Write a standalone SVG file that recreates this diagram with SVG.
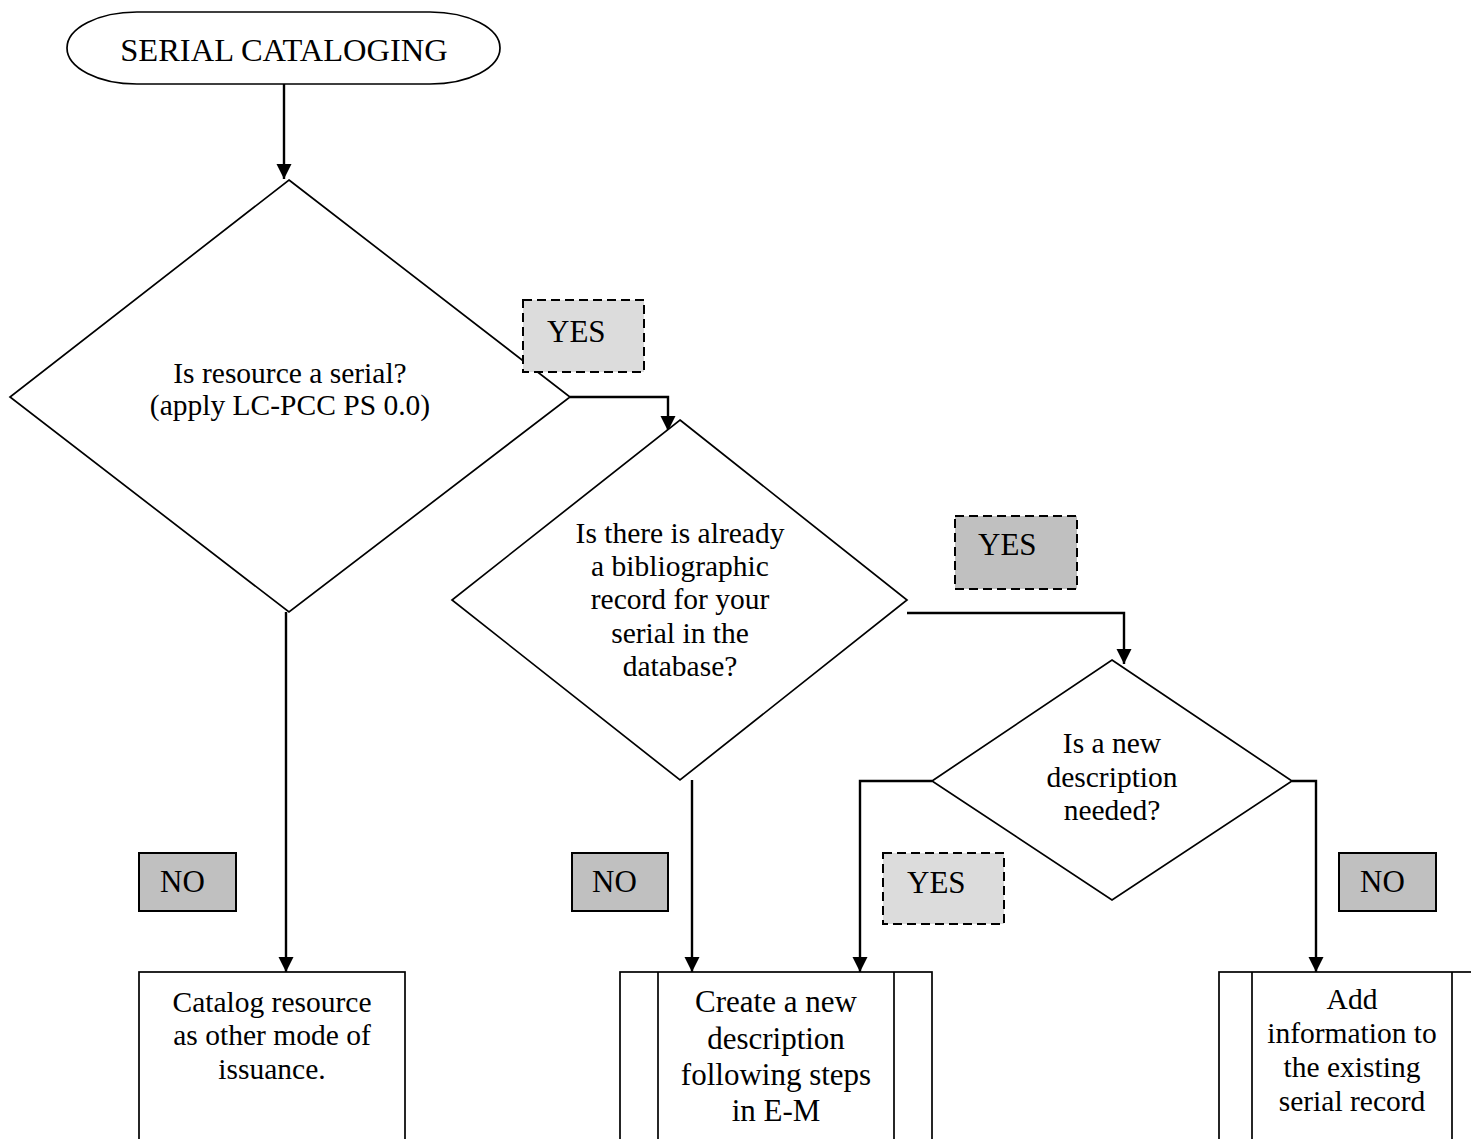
<svg xmlns="http://www.w3.org/2000/svg" width="1471" height="1139" viewBox="0 0 1471 1139">
<defs>
<marker id="arr" markerUnits="userSpaceOnUse" markerWidth="16" markerHeight="16" viewBox="0 0 16 16" refX="15" refY="8" orient="auto">
<path d="M0,0.5 L15,8 L0,15.5 Z" fill="#000"/>
</marker>
<style>
.s{fill:#fff;stroke:#000;stroke-width:1.7}
.c{fill:none;stroke:#000;stroke-width:2.4;marker-end:url(#arr)}
.t{font-family:"Liberation Serif","Times New Roman",serif;font-size:29.5px;fill:#000}
.m{text-anchor:middle}
.big{font-size:31px}
.ttl{font-size:32.5px}
.yl{fill:#dcdcdc;stroke:#000;stroke-width:2;stroke-dasharray:9,5}
.yd{fill:#c0c0c0;stroke:#000;stroke-width:2;stroke-dasharray:9,5}
.no{fill:#c0c0c0;stroke:#000;stroke-width:2}
</style>
</defs>
<rect width="1471" height="1139" fill="#fff"/>

<g id="connectors">
<path class="c" d="M284,84 V179"/>
<path class="c" d="M570,397 H668 V431"/>
<path class="c" d="M286,612 V972"/>
<path class="c" d="M907,613 H1124 V664"/>
<path class="c" d="M692,780 V972"/>
<path class="c" d="M932,781 H860 V972"/>
<path class="c" d="M1292,781 H1316 V972"/>
</g>

<g id="start">
<rect class="s" x="67" y="12" width="433" height="72" rx="70" ry="36"/>
<text class="t ttl m" x="284" y="61">SERIAL CATALOGING</text>
</g>

<g id="d1">
<polygon class="s" points="289,180 570,397 289,612 10,397"/>
<text class="t m" x="290" y="383">Is resource a serial?</text>
<text class="t m" x="290" y="415">(apply LC-PCC PS 0.0)</text>
</g>

<g id="yes1">
<rect class="yl" x="523" y="300" width="121" height="72"/>
<text class="t big" x="547" y="342">YES</text>
</g>

<g id="d2">
<polygon class="s" points="680,420 907,600 680,780 452,600"/>
<text class="t m" x="680" y="543">Is there is already</text>
<text class="t m" x="680" y="576">a bibliographic</text>
<text class="t m" x="680" y="609">record for your</text>
<text class="t m" x="680" y="643">serial in the</text>
<text class="t m" x="680" y="676">database?</text>
</g>

<g id="yes2">
<rect class="yd" x="955" y="516" width="122" height="73"/>
<text class="t big" x="978" y="555">YES</text>
</g>

<g id="d3">
<polygon class="s" points="1112,660 1292,781 1112,900 932,781"/>
<text class="t m" x="1112" y="753">Is a new</text>
<text class="t m" x="1112" y="787">description</text>
<text class="t m" x="1112" y="820">needed?</text>
</g>

<g id="no1">
<rect class="no" x="139" y="853" width="97" height="58"/>
<text class="t big" x="160" y="892">NO</text>
</g>

<g id="no2">
<rect class="no" x="572" y="853" width="96" height="58"/>
<text class="t big" x="592" y="892">NO</text>
</g>

<g id="yes3">
<rect class="yl" x="883" y="853" width="121" height="71"/>
<text class="t big" x="907" y="893">YES</text>
</g>

<g id="no3">
<rect class="no" x="1339" y="853" width="97" height="58"/>
<text class="t big" x="1360" y="892">NO</text>
</g>

<g id="catalog">
<rect class="s" x="139" y="972" width="266" height="200"/>
<text class="t m" x="272" y="1012">Catalog resource</text>
<text class="t m" x="272" y="1045">as other mode of</text>
<text class="t m" x="272" y="1079">issuance.</text>
</g>

<g id="create">
<rect class="s" x="620" y="972" width="312" height="200"/>
<line x1="658" y1="972" x2="658" y2="1172" stroke="#000" stroke-width="1.7"/>
<line x1="894" y1="972" x2="894" y2="1172" stroke="#000" stroke-width="1.7"/>
<text class="t big m" x="776" y="1012">Create a new</text>
<text class="t big m" x="776" y="1049">description</text>
<text class="t big m" x="776" y="1085">following steps</text>
<text class="t big m" x="776" y="1121">in E-M</text>
</g>

<g id="add">
<rect class="s" x="1219" y="972" width="300" height="200"/>
<line x1="1252" y1="972" x2="1252" y2="1172" stroke="#000" stroke-width="1.7"/>
<line x1="1452" y1="972" x2="1452" y2="1172" stroke="#000" stroke-width="1.7"/>
<text class="t m" x="1352" y="1009">Add</text>
<text class="t m" x="1352" y="1043">information to</text>
<text class="t m" x="1352" y="1077">the existing</text>
<text class="t m" x="1352" y="1111">serial record</text>
</g>
</svg>
